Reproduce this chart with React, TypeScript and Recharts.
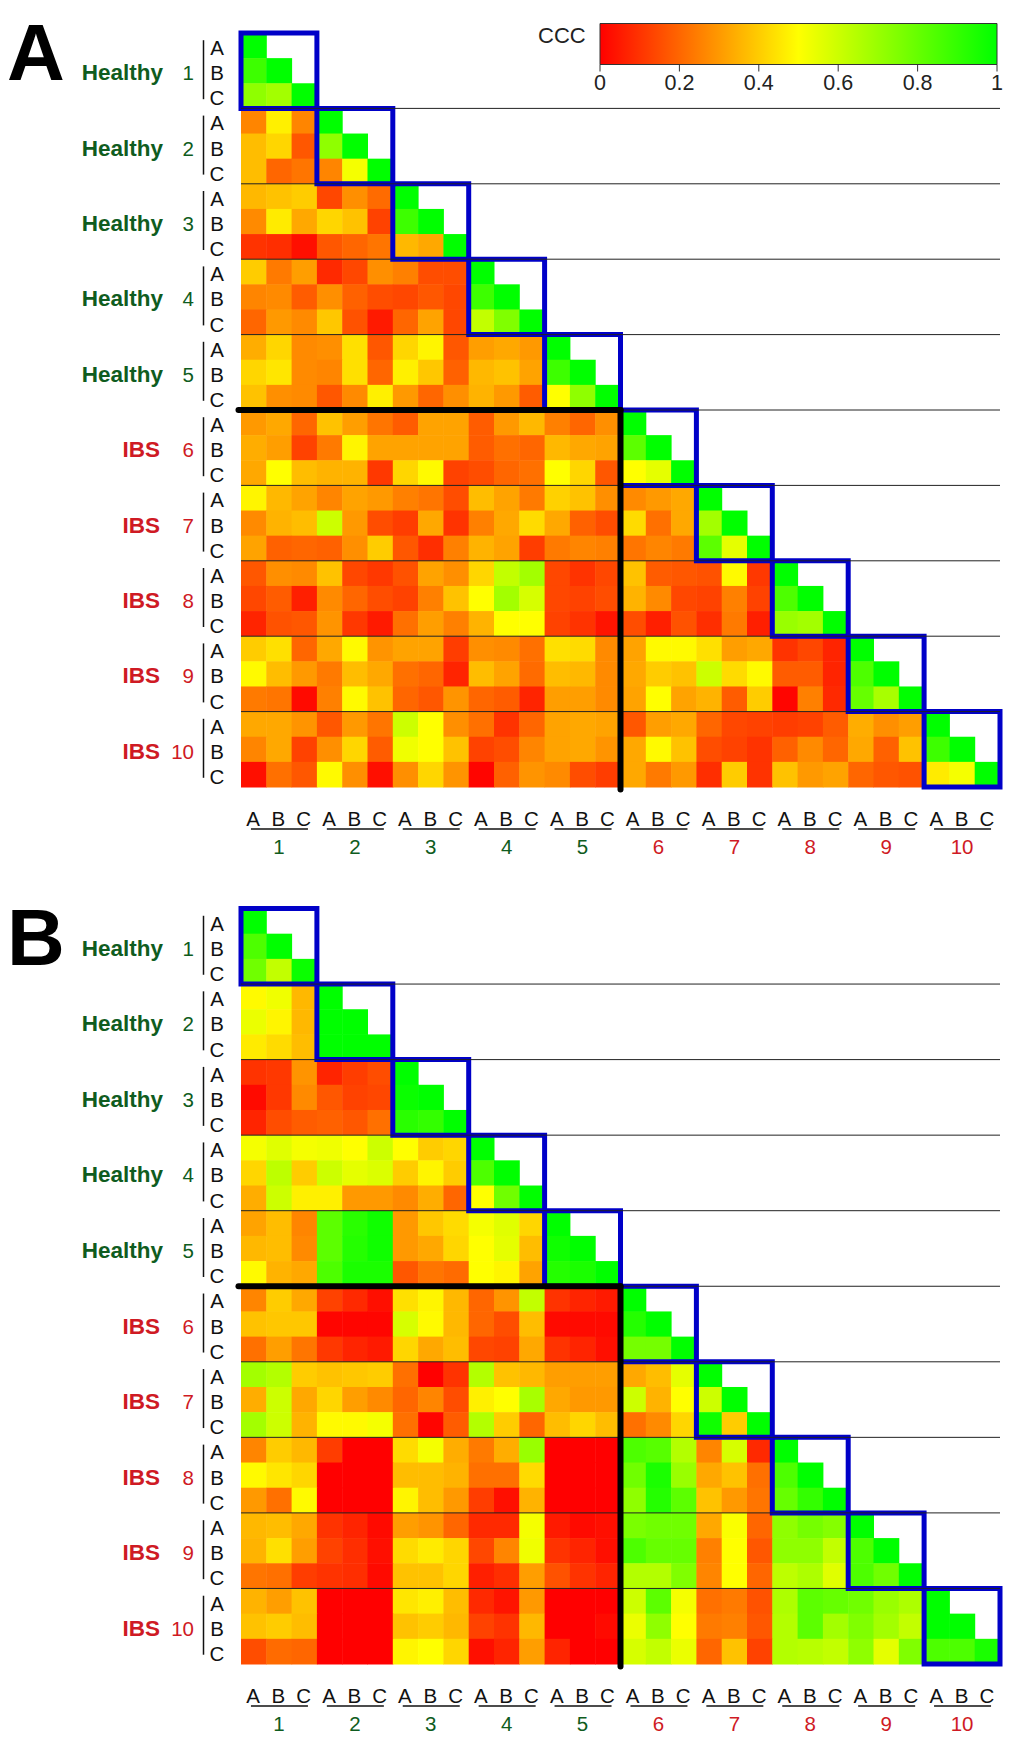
import React from "react";
import { ScatterChart, Scatter, XAxis, YAxis, ReferenceLine, ReferenceArea } from "recharts";

// Concordance values (CCC), one array per subject; each line is a sample row.
const A_S1 = [[1], [.88, 1], [.72, .68, 1]];
const A_S2 = [
  [.26, .47, .26, 1],
  [.37, .42, .17, .72, 1],
  [.37, .2, .23, .26, .52, 1],
];
const A_S3 = [
  [.36, .38, .4, .14, .28, .21, 1],
  [.27, .46, .33, .42, .38, .13, .88, 1],
  [.1, .09, .03, .17, .2, .23, .36, .33, 1],
];
const A_S4 = [
  [.4, .24, .31, .08, .14, .28, .25, .15, .15, 1],
  [.26, .27, .18, .28, .19, .15, .14, .17, .14, .88, 1],
  [.2, .3, .27, .39, .16, .05, .2, .32, .14, .62, .75, 1],
];
const A_S5 = [
  [.34, .42, .27, .28, .44, .17, .42, .48, .17, .31, .33, .3, 1],
  [.42, .45, .27, .26, .44, .2, .47, .39, .19, .36, .38, .32, .88, 1],
  [.38, .28, .27, .17, .27, .47, .3, .2, .28, .35, .3, .18, .5, .72, 1],
];
const A_S6 = [
  [.3, .33, .2, .38, .31, .23, .18, .32, .32, .18, .3, .36, .25, .2, .28, 1],
  [.34, .31, .13, .24, .48, .32, .32, .32, .32, .18, .22, .2, .36, .33, .32, .82, 1],
  [.33, .5, .37, .35, .35, .11, .42, .49, .13, .15, .2, .22, .5, .42, .17, .5, .55, 1],
];
const A_S7 = [
  [.48, .36, .32, .26, .32, .3, .25, .23, .15, .37, .32, .24, .41, .38, .28, .27, .3, .33, 1],
  [.27, .35, .37, .6, .3, .15, .12, .33, .1, .25, .33, .43, .33, .19, .15, .43, .22, .33, .68, 1],
  [.32, .19, .2, .19, .28, .4, .17, .09, .25, .35, .32, .12, .24, .26, .25, .23, .26, .24, .82, .55, 1],
];
const A_S8 = [
  [.17, .28, .27, .38, .14, .11, .16, .32, .28, .42, .62, .68, .14, .1, .14, .38, .18, .17, .16, .49, .11, 1],
  [.14, .18, .06, .27, .2, .15, .13, .25, .38, .5, .68, .58, .14, .13, .15, .35, .27, .14, .13, .25, .13, .85, 1],
  [.07, .16, .17, .29, .11, .05, .22, .31, .25, .35, .5, .5, .13, .1, .04, .15, .06, .16, .09, .24, .06, .7, .68, 1],
];
const A_S9 = [
  [.4, .44, .2, .33, .49, .29, .32, .32, .12, .28, .27, .22, .44, .43, .27, .32, .49, .49, .44, .31, .33, .1, .14, .07, 1],
  [.49, .37, .3, .24, .37, .33, .22, .2, .07, .37, .32, .21, .37, .36, .27, .33, .4, .38, .6, .43, .49, .18, .18, .07, .85, 1],
  [.24, .23, .02, .25, .49, .38, .2, .17, .29, .2, .18, .07, .31, .31, .27, .32, .5, .32, .35, .18, .4, .01, .25, .08, .8, .67, 1],
];
const A_S10 = [
  [.33, .33, .29, .17, .3, .23, .6, .5, .28, .22, .1, .2, .32, .33, .32, .17, .31, .33, .2, .14, .13, .12, .13, .18, .34, .28, .31, 1],
  [.26, .33, .13, .28, .42, .18, .53, .5, .38, .13, .15, .26, .32, .33, .29, .33, .49, .38, .15, .13, .1, .19, .27, .2, .33, .19, .38, .88, 1],
  [.03, .22, .17, .49, .28, .03, .28, .42, .29, .01, .19, .29, .27, .15, .12, .33, .24, .3, .09, .4, .1, .38, .3, .32, .2, .17, .16, .46, .52, 1],
];

const B_S1 = [[1], [.85, 1], [.78, .62, .98]];
const B_S2 = [
  [.49, .53, .36, 1],
  [.54, .48, .36, 1, 1],
  [.46, .43, .37, 1, 1, 1],
];
const B_S3 = [
  [.1, .11, .29, .07, .12, .15, 1],
  [.02, .11, .27, .17, .13, .14, .98, 1],
  [.07, .15, .18, .19, .17, .22, .92, .9, 1],
];
const B_S4 = [
  [.52, .56, .52, .53, .5, .6, .5, .4, .42, 1],
  [.42, .63, .4, .6, .55, .57, .4, .48, .4, .85, 1],
  [.34, .6, .47, .47, .3, .3, .27, .34, .2, .5, .78, 1],
];
const B_S5 = [
  [.32, .37, .26, .82, .92, .97, .3, .39, .43, .52, .56, .42, 1],
  [.36, .37, .27, .82, .93, .97, .3, .33, .42, .5, .55, .37, .97, 1],
  [.49, .35, .33, .85, .95, .95, .17, .23, .21, .5, .48, .32, .93, .95, 1],
];
const B_S6 = [
  [.26, .4, .33, .13, .08, .03, .44, .48, .36, .2, .29, .62, .1, .07, .05, 1],
  [.38, .39, .39, .01, .01, .01, .58, .49, .36, .2, .15, .37, .02, .02, .02, .93, 1],
  [.22, .31, .23, .11, .07, .05, .42, .33, .37, .14, .13, .33, .1, .07, .03, .77, .77, 1],
];
const B_S7 = [
  [.68, .65, .4, .38, .39, .4, .22, 0, .1, .65, .38, .36, .31, .31, .31, .33, .37, .55, 1],
  [.34, .6, .33, .42, .31, .27, .2, .26, .15, .47, .5, .67, .33, .3, .3, .6, .35, .5, .6, 1],
  [.68, .6, .35, .49, .49, .52, .22, .01, .18, .65, .4, .2, .37, .42, .37, .22, .27, .42, .97, .4, 1],
];
const B_S8 = [
  [.26, .4, .36, .12, 0, 0, .43, .52, .34, .24, .34, .7, 0, 0, 0, .85, .83, .65, .26, .58, .08, 1],
  [.49, .45, .42, 0, 0, 0, .37, .37, .35, .22, .22, .43, 0, 0, 0, .78, .95, .7, .33, .38, .22, .85, 1],
  [.3, .22, .49, 0, 0, 0, .48, .37, .3, .12, .03, .35, 0, 0, 0, .72, .93, .82, .38, .3, .23, .8, .9, 1],
];
const B_S9 = [
  [.36, .37, .33, .1, .07, .02, .31, .29, .2, .08, .08, .52, .05, .02, .03, .76, .78, .78, .33, .51, .2, .72, .77, .74, 1],
  [.35, .44, .31, .13, .09, .03, .43, .46, .42, .14, .26, .53, .1, .07, .03, .85, .8, .8, .25, .5, .17, .72, .72, .62, .85, 1],
  [.23, .22, .12, .1, .09, .02, .38, .38, .42, .06, .09, .31, .16, .1, .07, .65, .65, .75, .26, .5, .2, .63, .66, .56, .85, .78, 1],
];
const B_S10 = [
  [.35, .31, .38, 0, 0, 0, .45, .47, .37, .08, .04, .3, 0, 0, 0, .6, .82, .52, .22, .24, .16, .66, .82, .8, .78, .7, .66, 1],
  [.38, .4, .37, 0, 0, 0, .38, .4, .36, .13, .1, .36, 0, 0, .02, .54, .72, .5, .24, .25, .17, .65, .82, .68, .75, .68, .62, 1, 1],
  [.15, .21, .2, 0, 0, 0, .48, .5, .42, .03, .07, .31, .07, 0, 0, .58, .62, .54, .2, .38, .13, .65, .64, .62, .72, .55, .75, .85, .85, .95],
];

const SAMPLES = ["A", "B", "C"];
const GROUPS = ["Healthy", "Healthy", "Healthy", "Healthy", "Healthy", "IBS", "IBS", "IBS", "IBS", "IBS"];
const SUBJECTS = ["1", "2", "3", "4", "5", "6", "7", "8", "9", "10"];
const LEGEND_TICKS = [0, 0.2, 0.4, 0.6, 0.8, 1];

const PANEL_A = [A_S1, A_S2, A_S3, A_S4, A_S5, A_S6, A_S7, A_S8, A_S9, A_S10];
const PANEL_B = [B_S1, B_S2, B_S3, B_S4, B_S5, B_S6, B_S7, B_S8, B_S9, B_S10];

const FONT = '"Liberation Sans", Arial, sans-serif';
const GREEN_TEXT = "#0f5c20";
const RED_TEXT = "#cf1a24";
const BLUE = "#0000c8";

const CELL_TICKS = Array.from({ length: 30 }, (_, i) => i + 0.5);
const BLOCKS = Array.from({ length: 10 }, (_, i) => i * 3);
const LEFT = 241;
const RIGHT = 1000;

function cccColor(v: number) {
  const r = v <= 0.5 ? 255 : Math.round(255 * (1 - v) * 2);
  const g = v <= 0.5 ? Math.round(255 * v * 2) : 255;
  return `rgb(${r},${g},0)`;
}

function toCells(panel: number[][][]) {
  const cells: { col: number; row: number; value: number }[] = [];
  panel.forEach((subject, s) =>
    subject.forEach((line, l) =>
      line.forEach((value, c) => cells.push({ col: c + 0.5, row: s * 3 + l + 0.5, value }))
    )
  );
  return cells;
}

const NoMark = () => null;

function YTick(props: any) {
  const { y, payload } = props;
  const idx = Math.floor(payload.value);
  const g = Math.floor(idx / 3);
  const inRow = idx % 3;
  const isIbs = GROUPS[g] === "IBS";
  const color = isIbs ? RED_TEXT : GREEN_TEXT;
  return (
    <g fontFamily={FONT}>
      <text x={217} y={y + 9.5} fontSize={20.5} fill="#111" textAnchor="middle">
        {SAMPLES[inRow]}
      </text>
      {inRow === 1 && (
        <>
          <text
            x={isIbs ? 160 : 163}
            y={y + 9.5}
            fontSize={22.5}
            fontWeight="bold"
            fill={color}
            textAnchor="end"
          >
            {GROUPS[g]}
          </text>
          <text x={194} y={y + 9.5} fontSize={20.5} fill={color} textAnchor="end">
            {SUBJECTS[g]}
          </text>
          <line x1={203.5} x2={203.5} y1={y - 30.5} y2={y + 28.5} stroke="#111" strokeWidth={1.5} />
        </>
      )}
    </g>
  );
}

function XTickFactory(bottom: number) {
  return function XTick(props: any) {
    const { x, payload } = props;
    const idx = Math.floor(payload.value);
    const g = Math.floor(idx / 3);
    const inCol = idx % 3;
    const color = GROUPS[g] === "IBS" ? RED_TEXT : GREEN_TEXT;
    return (
      <g fontFamily={FONT}>
        <text x={x - 0.5} y={bottom + 38.5} fontSize={20.5} fill="#111" textAnchor="middle">
          {SAMPLES[inCol]}
        </text>
        {inCol === 1 && (
          <>
            <line x1={x - 28} x2={x + 29} y1={bottom + 42} y2={bottom + 42} stroke="#111" strokeWidth={1.5} />
            <text x={x} y={bottom + 67} fontSize={20.5} fill={color} textAnchor="middle">
              {SUBJECTS[g]}
            </text>
          </>
        )}
      </g>
    );
  };
}

function Panel(props: { rows: number[][][]; wrapTop: number; height: number; top: number; bottom: number }) {
  const { rows, wrapTop, height, top, bottom } = props;
  const cells = toCells(rows);
  const plotH = bottom - top;
  const cw = (RIGHT - LEFT) / 30;
  const ch = plotH / 30;
  const CellShape = (p: any) => (
    <rect
      x={p.cx - cw / 2}
      y={p.cy - ch / 2}
      width={cw + 0.5}
      height={ch + 0.5}
      fill={cccColor(p.payload.value)}
    />
  );
  const XTick = XTickFactory(bottom - wrapTop);
  const axisH = height - (bottom - wrapTop);
  return (
    <>
      <div style={{ position: "absolute", left: 0, top: wrapTop }}>
        <ScatterChart
          width={1029}
          height={height}
          margin={{ top: top - wrapTop, right: 1029 - RIGHT, bottom: 0, left: 0 }}
        >
          <XAxis
            type="number"
            dataKey="col"
            domain={[0, 30]}
            ticks={CELL_TICKS}
            interval={0}
            height={axisH}
            axisLine={false}
            tickLine={false}
            tick={XTick}
          />
          <YAxis
            type="number"
            dataKey="row"
            domain={[0, 30]}
            reversed
            ticks={CELL_TICKS}
            interval={0}
            width={LEFT}
            axisLine={false}
            tickLine={false}
            tick={YTick}
          />
          <Scatter data={cells} isAnimationActive={false} shape={CellShape} />
        </ScatterChart>
      </div>
      <div style={{ position: "absolute", left: 0, top: wrapTop }}>
        <ScatterChart
          width={1029}
          height={height}
          margin={{ top: top - wrapTop, right: 1029 - RIGHT, bottom: axisH, left: LEFT }}
        >
          <XAxis type="number" dataKey="col" domain={[0, 30]} hide />
          <YAxis type="number" dataKey="row" domain={[0, 30]} reversed hide />
          <Scatter data={cells.slice(0, 1)} isAnimationActive={false} shape={NoMark} />
          {BLOCKS.slice(1).map((b) => (
            <ReferenceLine key={`h${b}`} y={b} stroke="#222" strokeWidth={1} />
          ))}
          <ReferenceLine
            ifOverflow="visible"
            segment={[{ x: -0.1, y: 15 }, { x: 15, y: 15 }]}
            stroke="#000"
            strokeWidth={6}
            strokeLinecap="round"
          />
          <ReferenceLine
            ifOverflow="visible"
            segment={[{ x: 15, y: 15 }, { x: 15, y: 30.1 }]}
            stroke="#000"
            strokeWidth={6}
            strokeLinecap="round"
          />
          {BLOCKS.map((b) => (
            <ReferenceArea
              key={`b${b}`}
              x1={b}
              x2={b + 3}
              y1={b}
              y2={b + 3}
              fill="none"
              fillOpacity={0}
              stroke={BLUE}
              strokeWidth={5}
              strokeOpacity={1}
              ifOverflow="visible"
            />
          ))}
        </ScatterChart>
      </div>
    </>
  );
}

const LEGEND_POINTS = LEGEND_TICKS.map((v) => ({ v, w: 0 }));

function Legend() {
  return (
    <div style={{ position: "absolute", left: 560, top: 0 }}>
      <ScatterChart width={469} height={101} margin={{ top: 23.5, right: 32, bottom: 0, left: 40 }}>
        <defs>
          <linearGradient id="cccGradient" x1="0" x2="1" y1="0" y2="0">
            <stop offset="0%" stopColor="#ff0000" />
            <stop offset="50%" stopColor="#ffff00" />
            <stop offset="100%" stopColor="#00ff00" />
          </linearGradient>
        </defs>
        <XAxis
          type="number"
          dataKey="v"
          domain={[0, 1]}
          ticks={LEGEND_TICKS}
          interval={0}
          height={36.5}
          axisLine={false}
          tickSize={7}
          tickMargin={3}
          tickLine={{ stroke: "#333" }}
          tick={{ fontSize: 21.5, fontFamily: FONT, fill: "#222" }}
        />
        <YAxis type="number" dataKey="w" domain={[0, 1]} hide />
        <Scatter data={LEGEND_POINTS} isAnimationActive={false} shape={NoMark} />
        <ReferenceArea
          x1={0}
          x2={1}
          y1={0}
          y2={1}
          fill="url(#cccGradient)"
          fillOpacity={1}
          stroke="#333"
          strokeWidth={1}
          strokeOpacity={1}
        />
      </ScatterChart>
    </div>
  );
}

export default function App() {
  return (
    <div
      style={{
        position: "absolute",
        left: 0,
        top: 0,
        width: 1029,
        height: 1754,
        overflow: "hidden",
        background: "#fff",
      }}
    >
      <Panel rows={PANEL_A} wrapTop={0} height={880} top={33} bottom={787} />
      <Panel rows={PANEL_B} wrapTop={880} height={874} top={908.5} bottom={1664} />
      <Legend />
      <svg width={1029} height={1754} style={{ position: "absolute", left: 0, top: 0, pointerEvents: "none" }}>
        <g fontFamily={FONT}>
          <text x={7} y={80} fontSize={80} fontWeight="bold" fill="#000">A</text>
          <text x={7} y={965} fontSize={80} fontWeight="bold" fill="#000">B</text>
          <text x={538} y={43} fontSize={22} fill="#222">CCC</text>
        </g>
      </svg>
    </div>
  );
}
